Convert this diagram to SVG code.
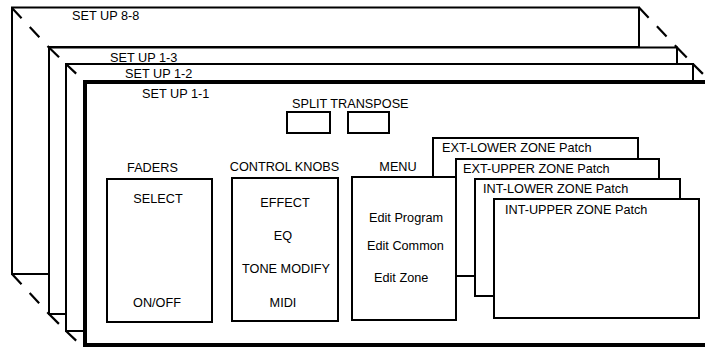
<svg xmlns="http://www.w3.org/2000/svg" width="705" height="348" viewBox="0 0 705 348">
<style>
text{font-family:"Liberation Sans",Arial,sans-serif;font-size:12.7px;fill:#000}
.c{text-anchor:middle}
.card{fill:#fff;stroke:#000;stroke-width:2}
.box{fill:#fff;stroke:#000;stroke-width:2}
.dash{fill:none;stroke:#000;stroke-width:2.2;stroke-dasharray:14 12}
</style>
<rect width="705" height="348" fill="#fff"/>
<g id="setup-8-8">
<path class="card" d="M12,7.5 H639 V47 H49 V274 H12 Z"/>
<text x="72" y="20">SET UP 8-8</text>
</g>
<g id="setup-1-3">
<path class="card" d="M49,47.5 H677 V64 H66 V314 H49 Z"/>
<text x="110" y="62">SET UP 1-3</text>
</g>
<g id="setup-1-2">
<path class="card" d="M66,64 H693 V82 H85 V331 H66 Z"/>
<text x="125" y="78">SET UP 1-2</text>
</g>
<g id="setup-1-1">
<rect x="85" y="82" width="640" height="263" fill="#fff" stroke="#000" stroke-width="4"/>
<text x="142" y="98">SET UP 1-1</text>
</g>
<g id="split-transpose">
<text x="292" y="108">SPLIT TRANSPOSE</text>
<rect class="box" x="287" y="112" width="43" height="21"/>
<rect class="box" x="348" y="112" width="41" height="21"/>
</g>
<g id="faders">
<text x="152.5" y="172" class="c">FADERS</text>
<rect class="box" x="107" y="179" width="105" height="143"/>
<text x="158" y="203" class="c">SELECT</text>
<text x="157" y="307" class="c">ON/OFF</text>
</g>
<g id="control-knobs">
<text x="284.5" y="171" class="c">CONTROL KNOBS</text>
<rect class="box" x="232" y="178" width="106" height="143"/>
<text x="285" y="207" class="c">EFFECT</text>
<text x="283" y="240" class="c">EQ</text>
<text x="286" y="273" class="c">TONE MODIFY</text>
<text x="283" y="307" class="c">MIDI</text>
</g>
<g id="ext-lower">
<rect class="box" x="433" y="138" width="205" height="122"/>
<text x="442" y="152">EXT-LOWER ZONE Patch</text>
</g>
<g id="menu">
<text x="398" y="171" class="c">MENU</text>
<rect class="box" x="352" y="177" width="104" height="143"/>
<text x="369" y="222">Edit Program</text>
<text x="367" y="250">Edit Common</text>
<text x="374" y="282">Edit Zone</text>
</g>
<g id="ext-upper">
<rect class="box" x="456" y="159" width="203" height="117"/>
<text x="463" y="173">EXT-UPPER ZONE Patch</text>
</g>
<g id="int-lower">
<rect class="box" x="475" y="179" width="205" height="117"/>
<text x="483" y="193">INT-LOWER ZONE Patch</text>
</g>
<g id="int-upper">
<rect class="box" x="494" y="199" width="205" height="119"/>
<text x="505" y="214">INT-UPPER ZONE Patch</text>
</g>
<g id="connectors">
<path class="dash" d="M12,8 L49,47.5"/>
<path class="dash" d="M49,47.5 L66,64"/>
<path class="dash" d="M66,64 L85,82"/>
<path class="dash" d="M639,7.5 L677,47.5"/>
<path class="dash" d="M677,47.5 L693,64"/>
<path class="dash" d="M693,64 L711,82"/>
<path class="dash" d="M12,274 L49,314"/>
<path class="dash" d="M49,314 L66,331"/>
<path class="dash" d="M66,331 L85,349"/>
</g>
</svg>
